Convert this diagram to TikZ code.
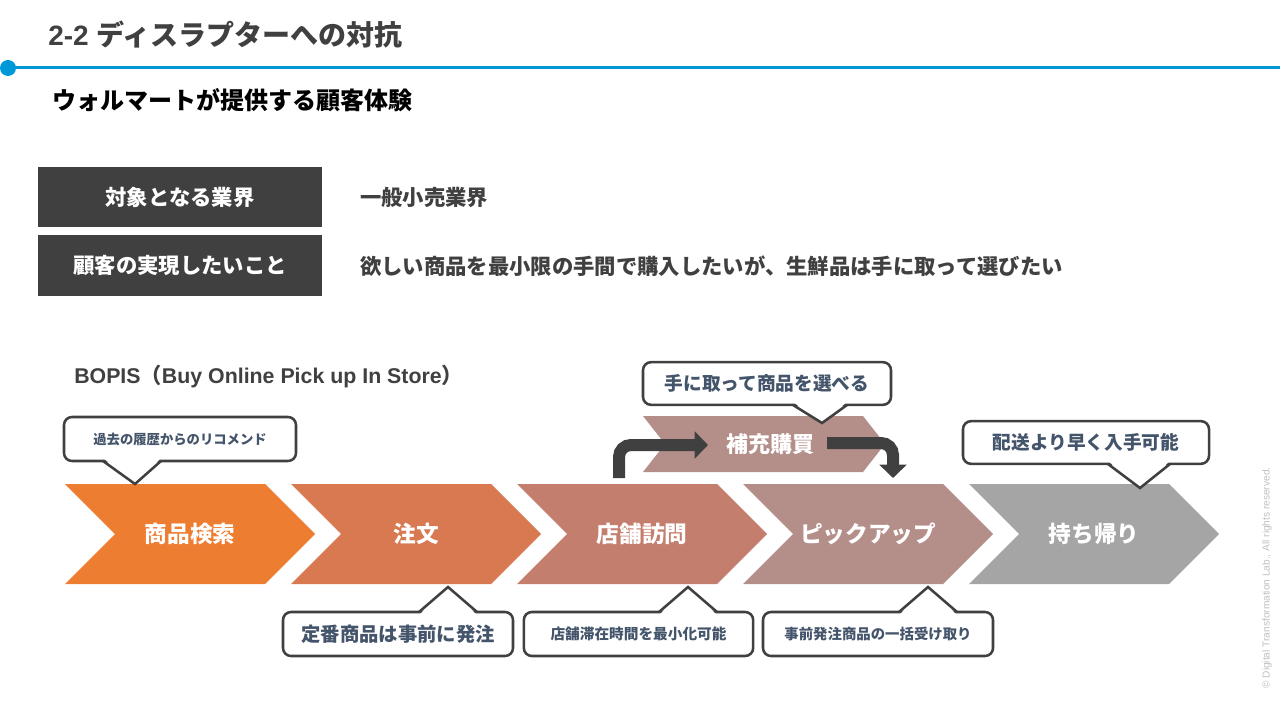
\documentclass[tikz,border=0pt]{standalone}
\usepackage{fontspec}
\setmainfont{Noto Sans CJK JP}
\newfontfamily\latinfont{Liberation Sans}
\usetikzlibrary{arrows.meta}

\definecolor{boxgray}{RGB}{64,64,64}
\definecolor{lineblue}{RGB}{0,152,216}
\definecolor{noteblue}{RGB}{68,84,106}
\definecolor{chA}{RGB}{237,125,49}
\definecolor{chB}{RGB}{216,121,81}
\definecolor{chC}{RGB}{196,126,110}
\definecolor{chD}{RGB}{180,142,137}
\definecolor{chE}{RGB}{165,165,165}

\tikzset{
  labelbox/.style={fill=boxgray, text=white, font=\bfseries\fontsize{16}{18}\selectfont,
    minimum width=213pt, minimum height=45pt, inner sep=0pt},
  bodytext/.style={anchor=west, text=boxgray, font=\bfseries\fontsize{16}{18}\selectfont, inner sep=0pt},
  steptext/.style={text=white, font=\bfseries\fontsize{17}{19}\selectfont},
  notebox/.style={draw=boxgray, line width=1.9pt, rounded corners=6pt, fill=white,
    text=noteblue, font=\bfseries, inner sep=0pt},
  noteline/.style={draw=boxgray, line width=1.9pt, line join=miter},
  flowarrow/.style={draw=boxgray, line width=9pt, rounded corners=9pt,
    -{Triangle[width=20pt,length=10pt]}},
}

\begin{document}
\begin{tikzpicture}[x=0.75pt, y=-0.75pt]
\useasboundingbox (0,0) rectangle (1280,720);

% header
\node[anchor=west, text=boxgray, font=\bfseries\fontsize{21}{24}\selectfont, inner sep=0pt] (title) at (48,35) {{\latinfont 2-2 }ディスラプターへの対抗};
\coordinate (dot) at (8,68);
\coordinate (lineend) at (1280,68);
\draw[lineblue, line width=2.25pt] (dot) -- (lineend);
\fill[lineblue] (dot) circle (6pt);
\node[anchor=west, font=\bfseries\fontsize{18}{20}\selectfont, inner sep=0pt] (sub) at (52,100) {ウォルマートが提供する顧客体験};

% target / wish
\node[labelbox] (lb1) at (180,197) {対象となる業界};
\node[labelbox] (lb2) at (180,265.5) {顧客の実現したいこと};
\node[bodytext] (bt1) at (360,197) {一般小売業界};
\node[bodytext] (bt2) at (360,266) {欲しい商品を最小限の手間で購入したいが、生鮮品は手に取って選びたい};

\node[anchor=west, text=boxgray, font=\bfseries\fontsize{16}{18}\selectfont, inner sep=0pt] (bopis) at (74,377) {{\latinfont BOPIS}（{\latinfont Buy Online Pick up In Store}）};

% main steps
\foreach \i/\x/\col/\txt in {1/65/chA/商品検索, 2/291/chB/注文, 3/517/chC/店舗訪問, 4/743/chD/ピックアップ, 5/969/chE/持ち帰り} {
  \fill[\col] (\x,484) -- ++(200,0) -- ++(50,50) -- ++(-50,50) -- ++(-200,0) -- ++(50,-50) -- cycle;
  \node[steptext] (s\i) at (\x+125,534) {\txt};
}

% extra step
\fill[chD] (643,416) -- (863,416) -- (885,444) -- (863,472) -- (643,472) -- (665,444) -- cycle;
\node[steptext, font=\bfseries\fontsize{16.5}{18}\selectfont] (hj) at (770,444) {補充購買};

\coordinate (up1) at (619,478);
\coordinate (up2) at (708,445);
\coordinate (dn1) at (827,443);
\coordinate (dn2) at (893,478);
\draw[flowarrow] (up1) |- (up2);
\draw[flowarrow] (dn1) -| (dn2);

% notes
\node[notebox, minimum width=174pt, minimum height=33pt, font=\bfseries\fontsize{10}{12}\selectfont] (n1) at (180,439) {過去の履歴からのリコメンド};
\node[notebox, minimum width=186pt, minimum height=32pt, font=\bfseries\fontsize{14}{16}\selectfont] (n2) at (767,383.5) {手に取って商品を選べる};
\node[notebox, minimum width=184.5pt, minimum height=32pt, font=\bfseries\fontsize{14}{16}\selectfont] (n3) at (1086,442.5) {配送より早く入手可能};
\node[notebox, minimum width=172.5pt, minimum height=33pt, font=\bfseries\fontsize{14.5}{16}\selectfont] (n4) at (398,634) {定番商品は事前に発注};
\node[notebox, minimum width=172pt, minimum height=33pt, font=\bfseries\fontsize{11}{13}\selectfont] (n5) at (638.5,634) {店舗滞在時間を最小化可能};
\node[notebox, minimum width=172.5pt, minimum height=33pt, font=\bfseries\fontsize{10.8}{13}\selectfont] (n6) at (878,634) {事前発注商品の一括受け取り};

% pointers
\foreach \l/\r/\tx/\ty/\e/\d in {103/161/135/484/461/-3, 793/847/822/423/405/-3, 1108/1170/1140/488/464/-3,
    419/477/448/587/612/3, 659/717/688/587/612/3, 899/957/928/587/612/3} {
  \fill[white] (\l,\e+\d) -- (\tx,\ty) -- (\r,\e+\d) -- cycle;
  \draw[noteline] (\l,\e) -- (\tx,\ty) -- (\r,\e);
}

\node[rotate=90, text=black!25, font=\latinfont\fontsize{7.6}{9}\selectfont, inner sep=0pt] (copy) at (1267,578) {© Digital Transformation Lab., All rights reserved.};
\end{tikzpicture}
\end{document}
